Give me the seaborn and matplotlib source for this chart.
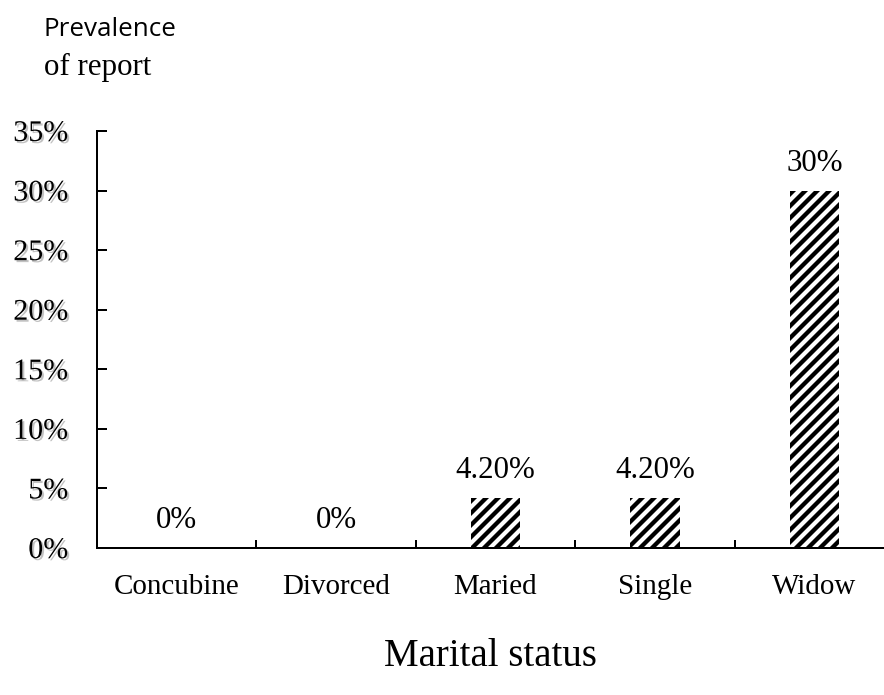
import matplotlib
matplotlib.use("Agg")
import matplotlib.pyplot as plt
import matplotlib.patheffects as pe
from matplotlib.ticker import FixedLocator, PercentFormatter
import seaborn as sns

# Prevalence of report by marital status
categories = ["Concubine", "Divorced", "Maried", "Single", "Widow"]
prevalence = [0.0, 0.0, 4.2, 4.2, 30.0]
value_labels = ["0%", "0%", "4.20%", "4.20%", "30%"]
y_ticks = [0, 5, 10, 15, 20, 25, 30, 35]

DPI = 144
W, H = 884, 695


def px(v):
    """Convert a length in output pixels to points."""
    return v * 72 / DPI


sns.set_theme(style="white")
plt.rcParams["font.family"] = ["Liberation Serif", "DejaVu Serif"]
plt.rcParams["hatch.linewidth"] = px(4.3)
plt.rcParams["text.color"] = "black"
plt.rcParams["xtick.labelcolor"] = "black"
plt.rcParams["ytick.labelcolor"] = "black"

fig = plt.figure(figsize=(W / DPI, H / DPI), dpi=DPI)
left, right, bottom, top = 97, 894, 548, 131
ax = fig.add_axes([left / W, 1 - bottom / H, (right - left) / W, (bottom - top) / H])

sns.barplot(x=categories, y=prevalence, color="white", width=0.31,
            edgecolor="black", linewidth=0, hatch="////", ax=ax, zorder=2)

ax.set_xlim(-0.5, len(categories) - 0.5)
ax.set_ylim(0, 35)

for spine in ["top", "right"]:
    ax.spines[spine].set_visible(False)
for spine in ["left", "bottom"]:
    ax.spines[spine].set_color("black")
    ax.spines[spine].set_linewidth(px(2))

# y axis: percent labels with a soft shadow, ticks pointing inward
ax.yaxis.set_major_locator(FixedLocator(y_ticks))
ax.yaxis.set_major_formatter(PercentFormatter(decimals=0))
ax.tick_params(axis="y", direction="in", length=px(10), width=px(2), color="black",
               labelsize=px(30), labelcolor="black", pad=px(29), left=True)
shadow = [pe.SimplePatchShadow(offset=(px(2), -px(2)), shadow_rgbFace="#9a9a9a",
                               alpha=0.6),
          pe.Normal()]
for lbl in ax.get_yticklabels():
    lbl.set_path_effects(shadow)

# x axis: category names, small inward ticks between categories
ax.set_xticks(range(len(categories)))
ax.set_xticklabels(categories)
ax.tick_params(axis="x", which="major", length=0, labelsize=px(29),
               labelcolor="black", pad=px(26))
ax.xaxis.set_minor_locator(FixedLocator([i + 0.5 for i in range(len(categories) - 1)]))
ax.tick_params(axis="x", which="minor", direction="in", length=px(8), width=px(2),
               color="black", bottom=True)

ax.set_xlabel("")
ax.set_ylabel("")

# value labels above each bar
for i, (v, txt) in enumerate(zip(prevalence, value_labels)):
    ax.annotate(txt, xy=(i, v), xytext=(0, px(13)), textcoords="offset points",
                ha="center", va="bottom", fontsize=px(31), color="black")

# axis titles
fig.text(490 / W, 1 - 656 / H, "Marital status", ha="center", va="center",
         fontsize=px(39), color="black")
fig.text(44 / W, 1 - 30 / H, "Prevalence", ha="left", va="center",
         fontsize=px(26), family=["Open Sans", "DejaVu Sans"], color="black")
fig.text(44 / W, 1 - 67 / H, "of report", ha="left", va="center",
         fontsize=px(31), color="black")

fig.savefig("out.png", dpi=DPI, facecolor="white")
